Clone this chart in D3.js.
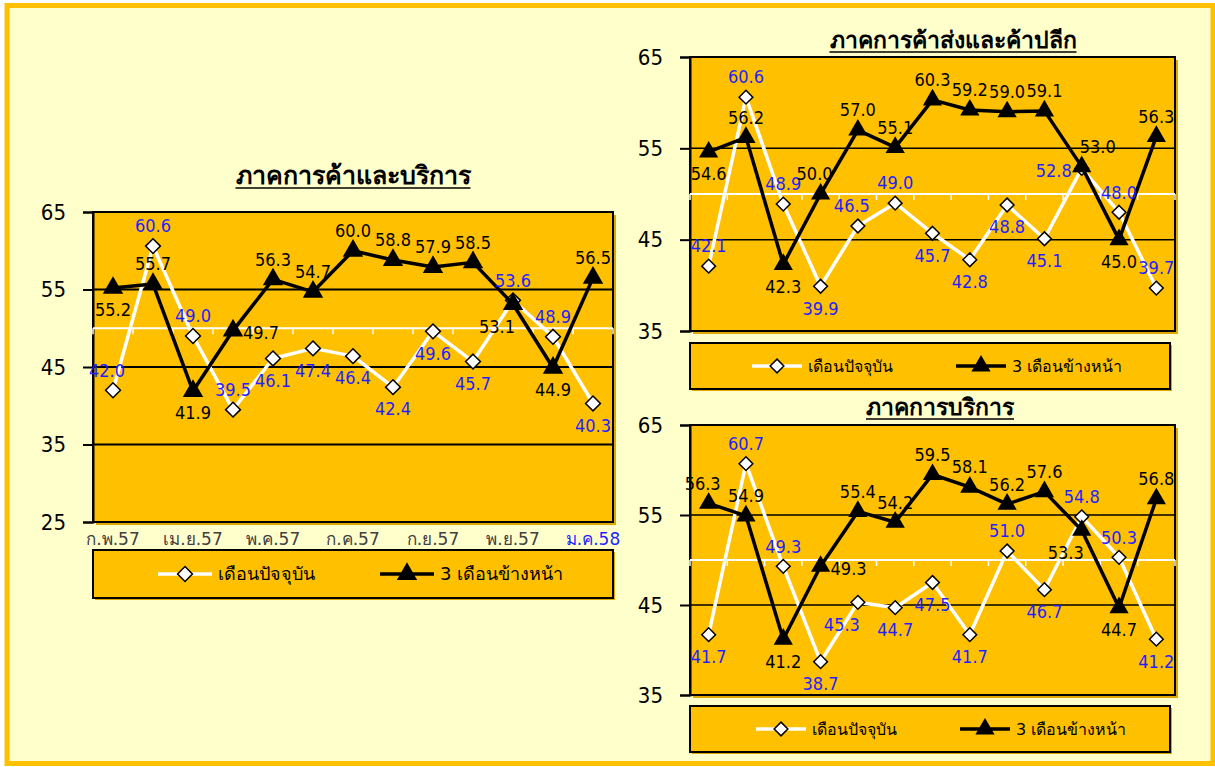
<!DOCTYPE html>
<html>
<head>
<meta charset="utf-8">
<script src="https://cdn.jsdelivr.net/npm/d3@7"></script>
<style>
  body { margin: 0; background: #fff; }
  svg { display: block; font-family: Tahoma, "DejaVu Sans", sans-serif; }
  .num { font-family: "DejaVu Sans Condensed", "DejaVu Sans", sans-serif; font-stretch: condensed; }
</style>
</head>
<body>
<div id="chart"></div>
<script>
// x labels, every second month shown
const monthLabels = ["ก.พ.57", "", "เม.ย.57", "", "พ.ค.57", "", "ก.ค.57", "", "ก.ย.57", "", "พ.ย.57", "", "ม.ค.58"]

// ภาคการค้าและบริการ
const tradeCurrent = [42.0, 60.6, 49.0, 39.5, 46.1, 47.4, 46.4, 42.4, 49.6, 45.7, 53.6, 48.9, 40.3]
const tradeAhead = [55.2, 55.7, 41.9, 49.7, 56.3, 54.7, 60.0, 58.8, 57.9, 58.5, 53.1, 44.9, 56.5]

// ภาคการค้าส่งและค้าปลีก
const retailCurrent = [42.1, 60.6, 48.9, 39.9, 46.5, 49.0, 45.7, 42.8, 48.8, 45.1, 52.8, 48.0, 39.7]
const retailAhead = [54.6, 56.2, 42.3, 50.0, 57.0, 55.1, 60.3, 59.2, 59.0, 59.1, 53.0, 45.0, 56.3]

// ภาคการบริการ
const serviceCurrent = [41.7, 60.7, 49.3, 38.7, 45.3, 44.7, 47.5, 41.7, 51.0, 46.7, 54.8, 50.3, 41.2]
const serviceAhead = [56.3, 54.9, 41.2, 49.3, 55.4, 54.2, 59.5, 58.1, 56.2, 57.6, 53.3, 44.7, 56.8]

const legendNames = ["เดือนปัจจุบัน", "3 เดือนข้างหน้า"]

// where each data label sits relative to its point
const tradeCurPos = ["tl", "t", "t", "t", "b", "b", "b", "b", "b", "b", "t", "t", "b"]
const tradeAheadPos = ["b", "t", "b", "r", "t", "t", "t", "t", "t", "t", "bl", "b", "t"]
const retailCurPos = ["t", "t", "t", "b", "tl", "t", "b", "b", "b", "b", "l", "t", "t"]
const retailAheadPos = ["b", "t", "b", "tl", "t", "t", "t", "t", "t", "t", "tr", "b", "t"]
const serviceCurPos = ["b", "t", "t", "b", "bl", "b", "b", "b", "t", "b", "t", "t", "b"]
const serviceAheadPos = ["tl", "t", "b", "r", "t", "t", "t", "t", "t", "t", "bl", "b", "t"]

const ORANGE = "#FFC000"
const BLUE = "#1f1fff"
const W = 1215, H = 767

const svg = d3.select("#chart").append("svg")
  .attr("width", W)
  .attr("height", H)

svg.append("rect")
  .attr("x", 7).attr("y", 5.5)
  .attr("width", W - 9).attr("height", H - 9)
  .attr("fill", "#FFFFCC")
  .attr("stroke", ORANGE)
  .attr("stroke-width", 5)

function drawChart(cfg) {
  const g = svg.append("g")
  const idx = d3.range(cfg.current.length)

  const x = d3.scaleBand().domain(idx).range([cfg.x0, cfg.x1])
  const y = d3.scaleLinear().domain(cfg.domain).range([cfg.y1, cfg.y0])
  const cx = i => x(i) + x.bandwidth() / 2

  // title
  const title = g.append("text")
    .attr("x", cfg.titleX).attr("y", cfg.titleY)
    .attr("text-anchor", "middle")
    .attr("font-size", cfg.titleSize)
    .attr("font-weight", "bold")
    .text(cfg.title)
  const tw = title.node().getComputedTextLength()
  g.append("line")
    .attr("x1", cfg.titleX - tw / 2).attr("x2", cfg.titleX + tw / 2)
    .attr("y1", cfg.titleY + 4).attr("y2", cfg.titleY + 4)
    .attr("stroke", "#000").attr("stroke-width", 1.5)

  // plot area
  g.append("rect")
    .attr("x", cfg.x0 + 3).attr("y", cfg.y0 + 3)
    .attr("width", cfg.x1 - cfg.x0).attr("height", cfg.y1 - cfg.y0)
    .attr("fill", "#e0a800")
  g.append("rect")
    .attr("x", cfg.x0).attr("y", cfg.y0)
    .attr("width", cfg.x1 - cfg.x0).attr("height", cfg.y1 - cfg.y0)
    .attr("fill", ORANGE)

  // gridlines
  g.append("g")
    .selectAll("line")
    .data(cfg.ticks)
    .join("line")
      .attr("x1", cfg.x0).attr("x2", cfg.x1)
      .attr("y1", d => y(d)).attr("y2", d => y(d))
      .attr("stroke", "#000")
      .attr("stroke-width", cfg.gridWidth)

  g.append("rect")
    .attr("x", cfg.x0).attr("y", cfg.y0)
    .attr("width", cfg.x1 - cfg.x0).attr("height", cfg.y1 - cfg.y0)
    .attr("fill", "none")
    .attr("stroke", "#000")
    .attr("stroke-width", 2)

  // y axis
  const yAxis = g.append("g")
    .attr("transform", `translate(${cfg.x0},0)`)
    .call(d3.axisLeft(y).tickValues(cfg.ticks).tickSize(10).tickPadding(17).tickFormat(d3.format("d")))
  yAxis.select(".domain").attr("stroke", "#000").attr("stroke-width", 2)
  yAxis.selectAll(".tick line").attr("stroke", "#000").attr("stroke-width", 2)
  yAxis.selectAll(".tick text")
    .attr("class", "num")
    .attr("font-size", 22)
    .attr("fill", "#000")

  // category axis crossing at 50 (white)
  const xAxis = g.append("g")
    .attr("transform", `translate(0,${y(50)})`)
  xAxis.append("line")
    .attr("x1", cfg.x0).attr("x2", cfg.x1)
    .attr("stroke", "#fff").attr("stroke-width", 2)
  xAxis.selectAll("line.tk")
    .data(d3.range(cfg.current.length + 1))
    .join("line")
      .attr("class", "tk")
      .attr("x1", i => cfg.x0 + i * x.step()).attr("x2", i => cfg.x0 + i * x.step())
      .attr("y1", 0).attr("y2", 6)
      .attr("stroke", "#fff").attr("stroke-width", 1.5)

  if (cfg.showLabels) {
    g.append("g")
      .selectAll("text")
      .data(monthLabels)
      .join("text")
        .attr("x", (d, i) => cx(i))
        .attr("y", cfg.y1 + 23)
        .attr("text-anchor", "middle")
        .attr("font-size", 17)
        .attr("fill", (d, i) => i === monthLabels.length - 1 ? BLUE : "#404040")
        .text(d => d)
  }

  const line = d3.line().x((d, i) => cx(i)).y(d => y(d))

  // current month - white line, diamonds
  g.append("path")
    .datum(cfg.current)
    .attr("d", line)
    .attr("fill", "none")
    .attr("stroke", "#fff")
    .attr("stroke-width", 3.5)
    .attr("stroke-linejoin", "round")

  const dia = d3.symbol().type(d3.symbolDiamond2).size(cfg.diaSize)
  g.append("g")
    .selectAll("path")
    .data(cfg.current)
    .join("path")
      .attr("d", dia)
      .attr("transform", (d, i) => `translate(${cx(i)},${y(d)})`)
      .attr("fill", "#fff")
      .attr("stroke", "#000")
      .attr("stroke-width", 1.5)

  // 3 months ahead - black line, triangles
  g.append("path")
    .datum(cfg.ahead)
    .attr("d", line)
    .attr("fill", "none")
    .attr("stroke", "#000")
    .attr("stroke-width", 3.5)
    .attr("stroke-linejoin", "round")

  const tri = d3.symbol().type(d3.symbolTriangle).size(cfg.triSize)
  g.append("g")
    .selectAll("path")
    .data(cfg.ahead)
    .join("path")
      .attr("d", tri)
      .attr("transform", (d, i) => `translate(${cx(i)},${y(d)})`)
      .attr("fill", "#000")

  // data labels
  function labels(values, pos, color) {
    const off = {
      t: [0, -20, "middle"], b: [0, 22, "middle"],
      r: [10, 2, "start"], l: [-10, 2, "end"],
      tl: [-6, -20, "middle"], tr: [16, -20, "middle"],
      bl: [-16, 22, "middle"]
    }
    g.append("g")
      .selectAll("text")
      .data(values)
      .join("text")
        .attr("class", "num")
        .attr("x", (d, i) => cx(i) + off[pos[i]][0])
        .attr("y", (d, i) => y(d) + off[pos[i]][1])
        .attr("dy", "0.35em")
        .attr("text-anchor", (d, i) => off[pos[i]][2])
        .attr("font-size", cfg.labelSize)
        .attr("fill", color)
        .text(d => d.toFixed(1))
  }
  labels(cfg.current, cfg.curPos, BLUE)
  labels(cfg.ahead, cfg.aheadPos, "#000")

  // legend
  const lg = cfg.legend
  g.append("rect")
    .attr("x", lg.x + 2).attr("y", lg.y + 2)
    .attr("width", lg.w).attr("height", lg.h)
    .attr("fill", "#e0a800")
  g.append("rect")
    .attr("x", lg.x).attr("y", lg.y)
    .attr("width", lg.w).attr("height", lg.h)
    .attr("fill", ORANGE)
    .attr("stroke", "#000")
    .attr("stroke-width", 2)

  const ly = lg.y + lg.h / 2
  const items = [
    {name: legendNames[0], stroke: "#fff", sym: dia, fill: "#fff", x: lg.x + lg.item0},
    {name: legendNames[1], stroke: "#000", sym: tri, fill: "#000", x: lg.x + lg.item1}
  ]
  const item = g.append("g")
    .selectAll("g")
    .data(items)
    .join("g")
      .attr("transform", d => `translate(${d.x},${ly})`)
  item.append("line")
    .attr("x1", 0).attr("x2", lg.lineW)
    .attr("stroke", d => d.stroke)
    .attr("stroke-width", 3.5)
  item.append("path")
    .attr("d", d => d.sym())
    .attr("transform", `translate(${lg.lineW / 2},0)`)
    .attr("fill", d => d.fill)
    .attr("stroke", d => d.fill === "#fff" ? "#000" : "none")
    .attr("stroke-width", 1.5)
  item.append("text")
    .attr("x", lg.lineW + 6)
    .attr("dy", "0.35em")
    .attr("font-size", lg.fontSize)
    .text(d => d.name)
}

drawChart({
  title: "ภาคการค้าและบริการ", titleX: 353, titleY: 184, titleSize: 25,
  current: tradeCurrent, ahead: tradeAhead,
  curPos: tradeCurPos, aheadPos: tradeAheadPos,
  x0: 93, x1: 613, y0: 212, y1: 522,
  domain: [25, 65], ticks: [25, 35, 45, 55, 65],
  gridWidth: 2, showLabels: true,
  diaSize: 140, triSize: 180, labelSize: 18,
  legend: {x: 93, y: 550, w: 520, h: 48, item0: 65, item1: 287, lineW: 54, fontSize: 18}
})

drawChart({
  title: "ภาคการค้าส่งและค้าปลีก", titleX: 953, titleY: 48, titleSize: 23,
  current: retailCurrent, ahead: retailAhead,
  curPos: retailCurPos, aheadPos: retailAheadPos,
  x0: 690, x1: 1175, y0: 57, y1: 331,
  domain: [35, 65], ticks: [35, 45, 55, 65],
  gridWidth: 1.5, showLabels: false,
  diaSize: 120, triSize: 160, labelSize: 18,
  legend: {x: 690, y: 343, w: 480, h: 46, item0: 62, item1: 266, lineW: 50, fontSize: 16}
})

drawChart({
  title: "ภาคการบริการ", titleX: 940, titleY: 415, titleSize: 23,
  current: serviceCurrent, ahead: serviceAhead,
  curPos: serviceCurPos, aheadPos: serviceAheadPos,
  x0: 690, x1: 1175, y0: 425, y1: 695,
  domain: [35, 65], ticks: [35, 45, 55, 65],
  gridWidth: 1.5, showLabels: false,
  diaSize: 120, triSize: 160, labelSize: 18,
  legend: {x: 690, y: 706, w: 480, h: 46, item0: 66, item1: 270, lineW: 50, fontSize: 16}
})
</script>
</body>
</html>
